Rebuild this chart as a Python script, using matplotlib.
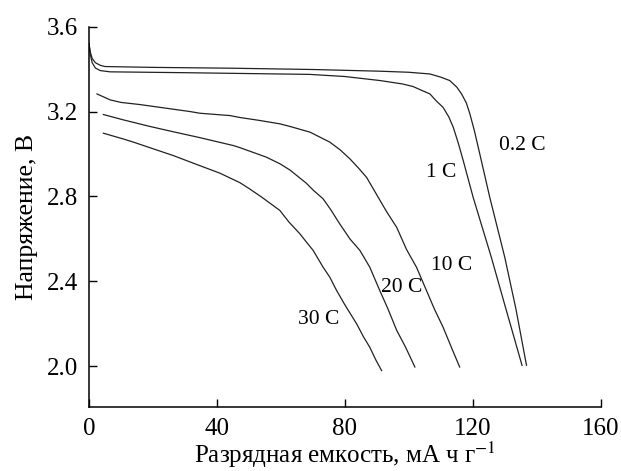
import numpy as np
import matplotlib.pyplot as plt

plt.rcParams['font.family'] = ['Liberation Serif', 'DejaVu Serif']
plt.rcParams['mathtext.fontset'] = 'stix'

# discharge curves: capacity (mA h/g), voltage (V)
x_02 = [0, 0.4, 1, 2, 3.5, 5, 20, 45, 70, 91, 100, 106.6, 110, 112.8, 115, 116.5, 118,
        119.1, 120.5, 122.2, 125.3, 130, 133.5, 136.8]
y_02 = [3.52, 3.48, 3.45, 3.43, 3.418, 3.412, 3.408, 3.404, 3.398, 3.39, 3.385, 3.377, 3.362,
        3.346, 3.315, 3.283, 3.24, 3.189, 3.11, 3.0, 2.797, 2.514, 2.27, 2.005]

x_1 = [0, 0.4, 1, 2, 3.5, 6.6, 30, 69, 80, 91, 98, 101.3, 104, 106.6, 108.6, 110.7, 112.5,
       113.9, 115.5, 117, 120.1, 125.8, 130, 135.4]
y_1 = [3.52, 3.47, 3.43, 3.405, 3.393, 3.387, 3.383, 3.375, 3.365, 3.346, 3.33, 3.318, 3.30,
       3.283, 3.25, 3.22, 3.175, 3.126, 3.05, 2.97, 2.797, 2.514, 2.29, 2.005]

x_10 = [2.5, 6.6, 10, 15.9, 31.6, 34.7, 44.1, 47.2, 53.4, 59.7, 62.8, 69.1, 75.3, 78.5, 81.6,
        84.2, 86.8, 89.9, 93, 96.2, 99.3, 102.4, 105.5, 108, 110.7, 113.3, 115.9]
y_10 = [3.283, 3.255, 3.243, 3.233, 3.20, 3.192, 3.181, 3.172, 3.158, 3.142, 3.13, 3.103, 3.056,
        3.02, 2.977, 2.935, 2.89, 2.81, 2.73, 2.655, 2.55, 2.467, 2.358, 2.27, 2.185, 2.09, 1.997]

x_20 = [4.5, 10.7, 19, 26.3, 34.7, 45.1, 47.2, 55.5, 59.7, 62.8, 68, 70.1, 73.2, 75.5, 78.4,
        81.6, 84.7, 87.8, 90.9, 93.5, 96.2, 99, 101.9]
y_20 = [3.186, 3.161, 3.13, 3.105, 3.077, 3.04, 3.03, 2.985, 2.954, 2.925, 2.862, 2.83, 2.789,
        2.74, 2.671, 2.60, 2.546, 2.467, 2.358, 2.27, 2.17, 2.09, 1.997]

x_30 = [4.5, 10.7, 13.9, 19, 26.3, 34.7, 40.9, 47.2, 50.3, 54, 59.7, 62.5, 65.9, 68, 70.1,
        73.2, 75.3, 77.4, 80, 83.7, 85.8, 87.8, 89.7, 91.5]
y_30 = [3.098, 3.071, 3.056, 3.03, 2.993, 2.945, 2.91, 2.865, 2.835, 2.797, 2.734, 2.68, 2.625,
        2.585, 2.546, 2.467, 2.42, 2.358, 2.29, 2.2, 2.14, 2.09, 2.03, 1.98]

labels = ['0.2 C', '1 C', '10 C', '20 C', '30 C']
label_x = [135.6, 110.2, 113.3, 97.7, 71.7]
label_y = [3.04, 2.915, 2.475, 2.37, 2.22]

fig = plt.figure(figsize=(6.21, 4.71), dpi=100)
ax = fig.add_axes([0.1433, 0.1365, 0.824, 0.807])

for xs, ys in [(x_02, y_02), (x_1, y_1), (x_10, y_10), (x_20, y_20), (x_30, y_30)]:
    ax.plot(xs, ys, color='#222222', lw=0.9)

for t, lx, ly in zip(labels, label_x, label_y):
    ax.text(lx, ly, t, fontsize=15.5, ha='center', va='center')

ax.set_xlim(0, 160)
ax.set_ylim(1.81, 3.6)
ax.set_xticks([0, 40, 80, 120, 160])
ax.set_yticks([2.0, 2.4, 2.8, 3.2, 3.6])
ax.set_yticklabels(['2.0', '2.4', '2.8', '3.2', '3.6'])
ax.tick_params(direction='in', length=6, width=1, labelsize=18)
ax.tick_params(axis='x', pad=8)
ax.tick_params(axis='y', pad=8)
ax.spines['top'].set_visible(False)
ax.spines['right'].set_visible(False)
ax.spines['left'].set_linewidth(1.1)
ax.spines['bottom'].set_linewidth(1.1)

ax.set_xlabel('Разрядная емкость, мА ч г$^{-1}$', fontsize=18, labelpad=0)
ax.set_ylabel('Напряжение, В', fontsize=18.5, labelpad=6)

fig.savefig('out.png', dpi=100)
